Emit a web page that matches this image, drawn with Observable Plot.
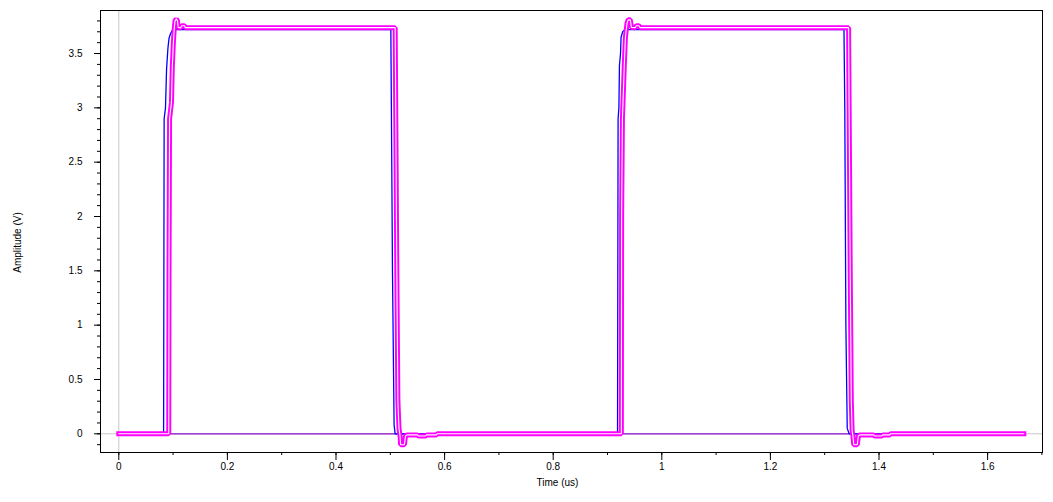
<!DOCTYPE html>
<html>
<head>
<meta charset="utf-8">
<script src="https://cdn.jsdelivr.net/npm/d3@7"></script>
<script src="https://cdn.jsdelivr.net/npm/@observablehq/plot@0.6"></script>
<style>
  html, body { margin: 0; padding: 0; background: #fff; }
  #chart svg { display: block; }
</style>
</head>
<body>
<div id="chart"></div>
<script>
// ---- data (time in us, amplitude in V) ----
const blueTime = [0, 0.0825, 0.0835, 0.086, 0.088, 0.0905, 0.0925, 0.095, 0.098, 0.105,
  0.501, 0.502, 0.504, 0.507, 0.509,
  0.9185, 0.9195, 0.921, 0.922, 0.924, 0.925, 0.928, 0.932,
  1.3355, 1.337, 1.339, 1.3415, 1.345, 1.6667];
const blueAmp = [0, 0, 2.9, 3.0, 3.36, 3.55, 3.64, 3.68, 3.71, 3.72,
  3.72, 3.0, 1.5, 0.08, 0,
  0, 2.9, 3.0, 3.39, 3.5, 3.65, 3.70, 3.72,
  3.72, 3.0, 1.0, 0.05, 0, 0];

const magentaTime = [0, 0.092, 0.0925, 0.0935, 0.097, 0.0985, 0.1005, 0.102, 0.1035, 0.106, 0.108, 0.1095, 0.114, 0.1155, 0.121, 0.1225,
  0.509, 0.510, 0.512, 0.514, 0.516, 0.518, 0.519, 0.526, 0.528, 0.531, 0.55, 0.552, 0.565, 0.567, 0.585, 0.586,
  0.9255, 0.926, 0.9275, 0.931, 0.933, 0.936, 0.938, 0.942, 0.944, 0.951, 0.953, 0.958, 0.96,
  1.344, 1.345, 1.347, 1.349, 1.3505, 1.352, 1.3535, 1.36, 1.362, 1.365, 1.39, 1.392, 1.405, 1.407, 1.42, 1.421, 1.6667];
const magentaAmp = [0, 0, 1.5, 2.9, 3.05, 3.37, 3.6, 3.72, 3.8, 3.82, 3.8, 3.74, 3.735, 3.755, 3.755, 3.738,
  3.738, 3.0, 1.5, 0.3, 0.05, -0.02, -0.1, -0.1, -0.02, -0.01, -0.01, -0.02, -0.02, -0.01, -0.01, 0,
  0, 2.0, 2.9, 3.4, 3.65, 3.78, 3.81, 3.81, 3.74, 3.738, 3.755, 3.755, 3.738,
  3.738, 3.0, 1.5, 0.3, 0.03, -0.02, -0.1, -0.1, -0.02, -0.01, -0.01, -0.02, -0.02, -0.01, -0.01, 0, 0];

const zeroTime = [0, 1.6667];
const zeroAmp = [0, 0];

const xMajorTicks = [0, 0.2, 0.4, 0.6, 0.8, 1, 1.2, 1.4, 1.6];
const xMinorTicks = [0, 0.1, 0.2, 0.3, 0.4, 0.5, 0.6, 0.7, 0.8, 0.9, 1, 1.1, 1.2, 1.3, 1.4, 1.5, 1.6, 1.7];
const yMajorTicks = [0, 0.5, 1, 1.5, 2, 2.5, 3, 3.5];
const yMinorTicks = [-0.1, 0, 0.1, 0.2, 0.3, 0.4, 0.5, 0.6, 0.7, 0.8, 0.9, 1, 1.1, 1.2, 1.3, 1.4, 1.5, 1.6, 1.7, 1.8, 1.9,
  2, 2.1, 2.2, 2.3, 2.4, 2.5, 2.6, 2.7, 2.8, 2.9, 3, 3.1, 3.2, 3.3, 3.4, 3.5, 3.6, 3.7, 3.8];

const xTitle = "Time (us)";
const yTitle = "Amplitude (V)";

const blue = blueTime.map((t, i) => ({t, v: blueAmp[i]}));
const magenta = magentaTime.map((t, i) => ({t, v: magentaAmp[i]}));
const zero = zeroTime.map((t, i) => ({t, v: zeroAmp[i]}));

const fmt = d => String(d);

const chart = Plot.plot({
  width: 1053,
  height: 502,
  marginLeft: 100,
  marginRight: 11,
  marginTop: 10,
  marginBottom: 50,
  style: {fontFamily: "'Liberation Sans', Arial, sans-serif", fontSize: "10px", color: "#000", background: "#fff"},
  x: {domain: [-0.0337, 1.7011]},
  y: {domain: [-0.172, 3.896]},
  marks: [
    Plot.ruleY([0], {stroke: "#c8c8c8", strokeWidth: 1}),
    Plot.ruleX([0], {stroke: "#c8c8c8", strokeWidth: 1}),
    Plot.line(zero, {x: "t", y: "v", stroke: "#9010d0", strokeWidth: 1.3}),
    Plot.line(blue, {x: "t", y: "v", stroke: "#0000ff", strokeWidth: 1.3}),
    Plot.line(magenta, {x: "t", y: "v", stroke: "#ff00ff", strokeWidth: 5, strokeLinejoin: "miter", strokeLinecap: "square"}),
    Plot.line(magenta, {x: "t", y: "v", stroke: "#ffffff", strokeWidth: 1.1, strokeLinejoin: "miter"}),
    Plot.axisX(xMinorTicks, {anchor: "bottom", tickSize: 3, text: null, label: null, stroke: "#000"}),
    Plot.axisX(xMajorTicks, {anchor: "bottom", tickSize: 8, tickPadding: 2, tickFormat: fmt, label: null, stroke: "#000", fill: "#000"}),
    Plot.axisY(yMinorTicks, {anchor: "left", tickSize: 3, text: null, label: null, stroke: "#000"}),
    Plot.axisY(yMajorTicks, {anchor: "left", tickSize: 6, tickPadding: 12, tickFormat: fmt, label: null, stroke: "#000", fill: "#000"}),
    Plot.frame({stroke: "#000", strokeWidth: 1}),
    Plot.text([xTitle], {frameAnchor: "bottom", textAnchor: "middle", dx: -14, dy: 33, fill: "#000", fontSize: 10}),
    Plot.text([yTitle], {frameAnchor: "left", textAnchor: "middle", lineAnchor: "middle", dx: -83, dy: 11, rotate: -90, fill: "#000", fontSize: 10})
  ]
});
document.getElementById("chart").appendChild(chart);
</script>
</body>
</html>
